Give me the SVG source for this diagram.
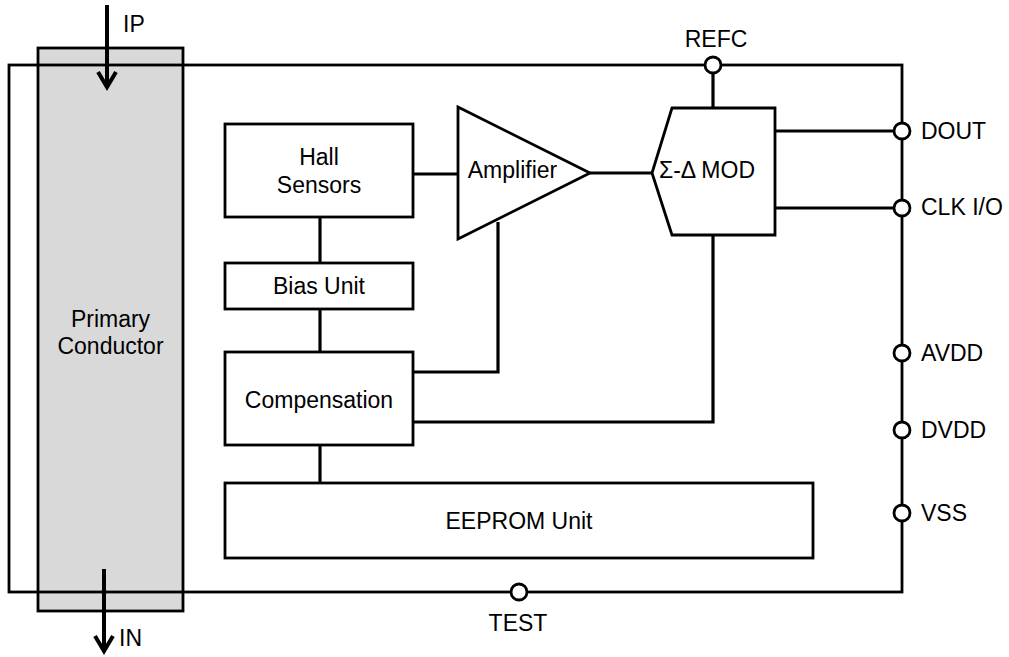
<svg xmlns="http://www.w3.org/2000/svg" width="1009" height="657" viewBox="0 0 1009 657">
<style>
.box{fill:#fff;stroke:#000;stroke-width:2.8}
.ln{fill:none;stroke:#000;stroke-width:3.2}
.pin{fill:#fff;stroke:#000;stroke-width:2.8}
.arr{fill:none;stroke:#000;stroke-width:4}
text{font-family:"Liberation Sans",Arial,sans-serif;font-size:23px;fill:#000}
.c{text-anchor:middle}
</style>
<rect width="1009" height="657" fill="#fff"/>
<g id="primary-conductor">
<rect x="38" y="48" width="145" height="563" fill="#d9d9d9" stroke="#000" stroke-width="2.8"/>
<text class="c" x="110.5" y="327">Primary</text>
<text class="c" x="110.5" y="354">Conductor</text>
</g>
<g id="package">
<rect x="9" y="65" width="893" height="527" fill="none" stroke="#000" stroke-width="2.8"/>
</g>
<g id="connectors">
<line class="ln" x1="320" y1="217" x2="320" y2="263"/>
<line class="ln" x1="320" y1="309" x2="320" y2="352"/>
<line class="ln" x1="320" y1="445" x2="320" y2="483"/>
<line class="ln" x1="413" y1="174" x2="458" y2="174"/>
<polyline class="ln" points="413,372 498,372 498,222"/>
<polyline class="ln" points="413,422 713,422 713,235"/>
<line class="ln" x1="590" y1="173" x2="652" y2="173"/>
<line class="ln" x1="713" y1="108" x2="713" y2="65"/>
<line class="ln" x1="775" y1="131" x2="902" y2="131"/>
<line class="ln" x1="775" y1="208" x2="902" y2="208"/>
<polyline class="arr" points="107,5 107,87"/>
<polyline class="arr" points="98,72 107,87 116,72"/>
<polyline class="arr" points="104,569 104,651"/>
<polyline class="arr" points="95,636 104,651 113,636"/>
</g>
<g id="ip-label"><text x="123" y="32">IP</text></g>
<g id="in-label"><text x="119" y="646">IN</text></g>
<g id="hall-sensors">
<rect class="box" x="225" y="124" width="188" height="93"/>
<text class="c" x="319" y="165">Hall</text>
<text class="c" x="319" y="193">Sensors</text>
</g>
<g id="bias-unit">
<rect class="box" x="225" y="263" width="188" height="46"/>
<text class="c" x="319" y="294">Bias Unit</text>
</g>
<g id="compensation">
<rect class="box" x="225" y="352" width="188" height="93"/>
<text class="c" x="319" y="408">Compensation</text>
</g>
<g id="eeprom">
<rect class="box" x="225" y="483" width="588" height="75"/>
<text class="c" x="519" y="529">EEPROM Unit</text>
</g>
<g id="amplifier">
<polygon class="box" points="458,107 590,173 458,239"/>
<text class="c" x="512.5" y="178">Amplifier</text>
</g>
<g id="sigma-delta-mod">
<polygon class="box" points="672,108 775,108 775,235 672,235 652,173"/>
<text class="c" x="707" y="178">Σ-Δ MOD</text>
</g>
<g id="pin-refc"><circle class="pin" cx="713" cy="65" r="8"/><text class="c" x="716" y="47">REFC</text></g>
<g id="pin-dout"><circle class="pin" cx="902" cy="131" r="8"/><text x="921" y="139">DOUT</text></g>
<g id="pin-clk"><circle class="pin" cx="902" cy="208" r="8"/><text x="921" y="215">CLK I/O</text></g>
<g id="pin-avdd"><circle class="pin" cx="902" cy="353" r="8"/><text x="921" y="361">AVDD</text></g>
<g id="pin-dvdd"><circle class="pin" cx="902" cy="430" r="8"/><text x="921" y="438">DVDD</text></g>
<g id="pin-vss"><circle class="pin" cx="902" cy="513" r="8"/><text x="921" y="521">VSS</text></g>
<g id="pin-test"><circle class="pin" cx="519" cy="592" r="8"/><text class="c" x="518" y="631">TEST</text></g>
</svg>
